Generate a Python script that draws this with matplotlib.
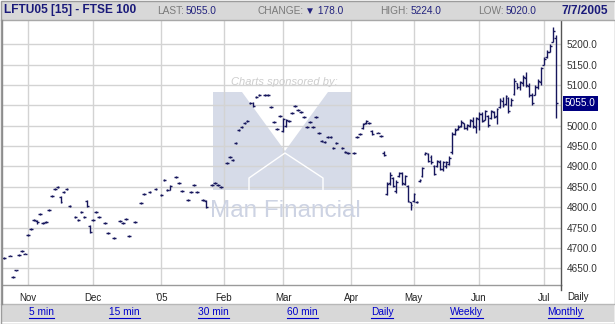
import matplotlib
matplotlib.use("Agg")
import matplotlib.pyplot as plt
from matplotlib.patches import Rectangle, Polygon
from matplotlib import font_manager
import matplotlib.transforms as mtrans
import pandas as pd

# ---------------- data (weekday offsets from 2004-11-01) ----------------
day_offsets = [-8, -6, -5, -4, -3, -2, -1, 0, 1, 2, 3, 4, 5, 6, 7, 8, 9, 10, 11, 12, 13, 14,
               16, 17, 18, 19, 20, 21, 22, 23, 24, 26, 27, 29, 31, 32, 33, 34, 36, 38, 39, 41,
               43, 45, 46, 47, 48, 50, 51, 52, 54, 55, 56, 57, 59, 60, 62, 63, 64, 65, 67, 68,
               69, 70, 71, 72, 73, 74, 75, 76, 77, 78, 80, 81, 82, 83, 84, 85, 86, 87, 88, 89,
               90, 91, 92, 93, 94, 95, 96, 97, 98, 99, 100, 101, 102, 103, 104, 106, 107, 108,
               110, 111, 112, 113, 114, 115, 116, 118, 119, 120, 121, 122, 123, 124, 125, 126,
               127, 128, 129, 130, 131, 132, 133, 134, 135, 136, 137, 138, 139, 140, 141, 142,
               143, 144, 145, 146, 147, 148, 149, 150, 151, 152, 153, 154, 155, 156, 157, 158,
               159, 160, 161, 162, 163, 164, 165, 166, 167, 168, 169, 170, 171, 172, 173, 174,
               175, 176, 177, 178]
opens = [4676, 4681, 4628, 4645, 4683, 4693, 4686, 4732, 4747, 4769, 4766, 4783, 4761, 4764,
         4793, 4828, 4845, 4850, 4826, 4838, 4845, 4803, 4776, 4769, 4788, 4776, 4815, 4754,
         4769, 4788, 4776, 4761, 4737, 4725, 4766, 4761, 4771, 4729, 4764, 4810, 4832, 4838,
         4845, 4830, 4867, 4842, 4843, 4874, 4860, 4840, 4818, 4838, 4855, 4838, 4818, 4816,
         4855, 4860, 4855, 4850, 4908, 4923, 4916, 4958, 4990, 4997, 5007, 5012, 5056, 5057,
         5070, 5076, 5076, 5076, 5046, 5009, 4992, 5024, 4988, 5000, 5012, 5031, 5048, 5039,
         5034, 5021, 4997, 5009, 4997, 5021, 4982, 4963, 4960, 4972, 4972, 4945, 4958, 4945,
         4935, 4933, 4933, 4972, 4980, 4994, 5006, 5007, 4988, 4983, 4975, 4934, 4832, 4860,
         4872, 4840, 4876, 4884, 4858, 4852, 4812, 4815, 4813, 4865, 4876, 4930, 4931, 4924,
         4901, 4900, 4912, 4893, 4900, 4906, 4935, 4980, 4992, 5000, 5006, 4994, 5000, 5012,
         4998, 5016, 5028, 5015, 5024, 5020, 5034, 5024, 5045, 5062, 5054, 5068, 5050, 5078,
         5105, 5094, 5106, 5118, 5098, 5076, 5075, 5095, 5108, 5150, 5168, 5182, 5205, 5215]
highs = [4678, 4683, 4630, 4647, 4685, 4695, 4688, 4734, 4749, 4771, 4769, 4785, 4763, 4766,
         4795, 4830, 4847, 4852, 4828, 4840, 4847, 4805, 4778, 4771, 4790, 4778, 4818, 4756,
         4771, 4790, 4778, 4763, 4739, 4727, 4768, 4763, 4773, 4731, 4766, 4812, 4834, 4840,
         4847, 4832, 4869, 4844, 4855, 4876, 4862, 4842, 4820, 4840, 4857, 4840, 4820, 4818,
         4857, 4862, 4857, 4852, 4910, 4925, 4918, 4960, 4992, 4999, 5009, 5014, 5058, 5059,
         5072, 5078, 5078, 5078, 5048, 5011, 4994, 5026, 5019, 5017, 5014, 5033, 5050, 5041,
         5036, 5023, 4999, 5011, 4999, 5023, 4984, 4965, 4962, 4974, 4974, 4947, 4960, 4947,
         4937, 4935, 4935, 4974, 4982, 5007, 5014, 5009, 4990, 4985, 4977, 4937, 4862, 4886,
         4874, 4867, 4886, 4886, 4879, 4855, 4813, 4835, 4815, 4869, 4898, 4935, 4933, 4928,
         4903, 4916, 4916, 4913, 4913, 4925, 4985, 4994, 5002, 5014, 5007, 5004, 5017, 5022,
         5021, 5034, 5034, 5039, 5026, 5039, 5036, 5043, 5068, 5070, 5076, 5070, 5068, 5117,
         5105, 5110, 5125, 5132, 5105, 5080, 5100, 5115, 5145, 5170, 5185, 5200, 5242, 5224]
lows = [4674, 4679, 4626, 4643, 4681, 4691, 4684, 4730, 4745, 4767, 4760, 4781, 4759, 4762,
        4791, 4826, 4843, 4848, 4810, 4836, 4843, 4801, 4774, 4767, 4786, 4774, 4800, 4737,
        4767, 4786, 4774, 4759, 4735, 4723, 4764, 4759, 4769, 4727, 4762, 4808, 4830, 4836,
        4843, 4828, 4865, 4840, 4842, 4872, 4858, 4838, 4816, 4836, 4853, 4836, 4816, 4798,
        4853, 4858, 4853, 4848, 4906, 4921, 4914, 4956, 4988, 4995, 5005, 5010, 5054, 5046,
        5068, 5074, 5074, 5074, 5044, 5007, 4990, 5022, 4985, 4997, 5010, 5029, 5046, 5037,
        5032, 5019, 4995, 5007, 4995, 5019, 4980, 4961, 4958, 4970, 4970, 4943, 4956, 4943,
        4933, 4931, 4931, 4970, 4978, 4992, 5004, 5005, 4978, 4981, 4973, 4925, 4830, 4855,
        4850, 4835, 4874, 4855, 4855, 4813, 4793, 4813, 4811, 4863, 4874, 4928, 4911, 4906,
        4879, 4899, 4891, 4889, 4896, 4904, 4930, 4977, 4990, 4997, 4992, 4990, 4997, 4995,
        4982, 4990, 5009, 5014, 4997, 5017, 5019, 5004, 5043, 5046, 5051, 5031, 5048, 5075,
        5090, 5088, 5098, 5095, 5070, 5051, 5075, 5090, 5100, 5150, 5166, 5180, 5205, 5020]
closes = [4676, 4681, 4628, 4645, 4683, 4693, 4686, 4732, 4747, 4769, 4763, 4783, 4761, 4764,
          4793, 4828, 4845, 4850, 4812, 4838, 4845, 4803, 4776, 4769, 4788, 4776, 4802, 4740,
          4769, 4788, 4776, 4761, 4737, 4725, 4766, 4761, 4771, 4729, 4764, 4810, 4832, 4838,
          4845, 4830, 4867, 4842, 4853, 4874, 4860, 4840, 4818, 4838, 4855, 4838, 4818, 4800,
          4855, 4860, 4855, 4850, 4908, 4923, 4916, 4958, 4990, 4997, 5007, 5012, 5056, 5048,
          5070, 5076, 5076, 5076, 5046, 5009, 4992, 5024, 5016, 5015, 5012, 5031, 5048, 5039,
          5034, 5021, 4997, 5009, 4997, 5021, 4982, 4963, 4960, 4972, 4972, 4945, 4958, 4945,
          4935, 4933, 4933, 4972, 4980, 5005, 5012, 5007, 4980, 4983, 4975, 4927, 4858, 4880,
          4852, 4862, 4884, 4860, 4876, 4816, 4805, 4832, 4813, 4867, 4896, 4932, 4914, 4910,
          4882, 4914, 4895, 4910, 4911, 4922, 4980, 4990, 4998, 5010, 4995, 5002, 5015, 5000,
          5018, 5030, 5012, 5036, 5002, 5036, 5022, 5040, 5064, 5050, 5072, 5036, 5064, 5110,
          5095, 5108, 5120, 5100, 5075, 5055, 5096, 5110, 5142, 5165, 5182, 5196, 5233, 5055]

month_labels = ["Nov", "Dec", "'05", "Feb", "Mar", "Apr", "May", "Jun", "Jul"]
y_ticks = [4650, 4700, 4750, 4800, 4850, 4900, 4950, 5000, 5050, 5100, 5150, 5200]
last_price = 5055.0
header_title = "LFTU05 [15] - FTSE 100"
header_fields = [("LAST:", "5055.0"), ("CHANGE:", "\u25BC 178.0"), ("HIGH:", "5224.0"), ("LOW:", "5020.0")]
header_date = "7/7/2005"
links = ["5 min", "15 min", "30 min", "60 min", "Daily", "Weekly", "Monthly"]

# month tick positions: first weekday of each month (weekday index from 2004-11-01)
wd = pd.bdate_range("2004-11-01", "2005-07-07")
first_idx = []
seen = set()
for i, d in enumerate(wd):
    key = (d.year, d.month)
    if key not in seen:
        seen.add(key)
        first_idx.append(i)

# ---------------- fonts ----------------
def pick(fams):
    for f in fams:
        try:
            font_manager.findfont(font_manager.FontProperties(family=f), fallback_to_default=False)
            return f
        except Exception:
            continue
    return "DejaVu Sans"

SANS = pick(["Liberation Sans", "Arial", "DejaVu Sans"])
NARROW = pick(["Liberation Sans Narrow", "Liberation Sans"])
narrow_ok = NARROW == "Liberation Sans Narrow"

W, H = 615, 324
fig = plt.figure(figsize=(W / 100, H / 100), dpi=100)
fig.patch.set_facecolor("white")

# overlay in pixel coordinates (y down)
ov = fig.add_axes([0, 0, 1, 1], zorder=5)
ov.set_xlim(0, W)
ov.set_ylim(H, 0)
ov.axis("off")
ov.patch.set_alpha(0)

PL, PR, PT, PB = 3, 561, 21, 285
ax = fig.add_axes([PL / W, 1 - PB / H, (PR - PL) / W, (PB - PT) / H], zorder=2)
ax.set_facecolor("white")

# watermark (behind data)
wm_col = "#D6DBE8"
m_poly = [(213, 92), (242, 92), (285, 151), (328, 92), (351, 92), (351, 190), (213, 190)]
ax.add_patch(Polygon(m_poly, closed=True, facecolor=wm_col, edgecolor="none",
                     transform=ov.transData, zorder=0.5))
ax.plot([249, 249, 285, 323, 323], [190, 178, 153, 178, 190], color="white", lw=1.0,
        transform=ov.transData, zorder=0.6)
ax.text(284, 82, "Charts sponsored by:", transform=ov.transData, ha="center", va="center",
        fontsize=8, style="italic", color="#CDCDCD", family=SANS, zorder=0.6)
ax.text(285, 211, "Man Financial", transform=ov.transData, ha="center", va="center",
        fontsize=21 if narrow_ok else 17.5, color="#CDD3E3", family=NARROW, zorder=0.6)

# OHLC bars
bar_col = "#16165C"
tw = 0.62
ax.vlines(day_offsets, lows, highs, color=bar_col, lw=1.0, zorder=3)
ax.hlines(opens, [d - tw for d in day_offsets], day_offsets, color=bar_col, lw=1.0, zorder=3)
ax.hlines(closes, day_offsets, [d + tw for d in day_offsets], color=bar_col, lw=1.0, zorder=3)

ax.set_xlim((PL - 28) / 2.966, (PR - 28) / 2.966)
ax.set_ylim(4609.0, 5257.2)

ax.set_xticks(first_idx)
ax.set_xticklabels(month_labels)
ax.set_yticks(y_ticks)
ax.set_yticklabels(["" if v == 5050 else f"{v:.1f}" for v in y_ticks])
ax.yaxis.tick_right()
ax.tick_params(axis="y", length=0, pad=4, labelsize=7.2, labelcolor="#333333")
ax.tick_params(axis="x", length=0, pad=6, labelsize=7, labelcolor="#222222")
for lab in ax.get_xticklabels() + ax.get_yticklabels():
    lab.set_family(SANS)
ax.grid(True, color="#D3D3D3", lw=1.0, zorder=0)
ax.set_axisbelow(True)
for s in ["top", "left"]:
    ax.spines[s].set_visible(False)
ax.spines["right"].set_color("#555555")
ax.spines["bottom"].set_color("#9A9A9A")
ax.spines["right"].set_linewidth(1.0)
ax.spines["bottom"].set_linewidth(1.0)

# last-price box
bt = mtrans.blended_transform_factory(ax.transAxes, ax.transData)
ax.text(1.0 + 4 / (PR - PL), last_price, f"{last_price:.1f}", transform=bt, ha="left", va="center",
        fontsize=7.2, color="white", family=SANS, zorder=6, clip_on=False,
        bbox=dict(facecolor="#000080", edgecolor="none", boxstyle="square,pad=0.25"))

# header band
ov.add_patch(Rectangle((1, 1), W - 2, 19, facecolor="#D8D8D8", edgecolor="none", zorder=1))
ov.plot([1, W - 1], [20, 20], color="#A8A8A8", lw=1.0, zorder=2)
ov.text(4, 10.5, header_title, ha="left", va="center", fontsize=10.3 if narrow_ok else 8.6,
        weight="bold", color="#1A1A7A", family=NARROW, zorder=3)
field_x = [157, 257, 380, 478]
navy = "#23237E"
fig.canvas.draw()
rend = fig.canvas.get_renderer()
inv = ov.transData.inverted()
for (lab, val), fx in zip(header_fields, field_x):
    t = ov.text(fx, 11, lab, ha="left", va="center", fontsize=7.3, color="#7A7A7A", family=SANS, zorder=3)
    bb = t.get_window_extent(renderer=rend)
    x_end = inv.transform((bb.x1, bb.y0))[0]
    ov.text(x_end + 2, 11, val, ha="left", va="center", fontsize=7.3, color=navy,
            family=[SANS, "DejaVu Sans"], zorder=3)
ov.text(608, 10.5, header_date, ha="right", va="center", fontsize=8.6, weight="bold",
        color="#1A1A7A", family=SANS, zorder=3)

# "Daily" label beside month labels
ov.text(578, 297, "Daily", ha="center", va="center", fontsize=7, color="#222222", family=SANS, zorder=3)
ov.plot([PR, PR], [PB, 290], color="#555555", lw=1.0, zorder=3)

# footer band with links
ov.add_patch(Rectangle((1, 304), W - 2, 18, facecolor="#D8D8D8", edgecolor="none", zorder=1))
ov.plot([1, W - 1], [304, 304], color="#B8B8B8", lw=1.0, zorder=2)
link_x = [41.5, 124.5, 213.5, 302.5, 382, 466.5, 565.5]
fig.canvas.draw()
for lab, lx in zip(links, link_x):
    t = ov.text(lx, 312, lab, ha="center", va="center", fontsize=7.3, color="#0000CC", family=SANS, zorder=3)
    bb = t.get_window_extent(renderer=rend)
    (x0, _), (x1, _) = inv.transform((bb.x0, bb.y0)), inv.transform((bb.x1, bb.y0))
    ov.plot([x0, x1], [317.5, 317.5], color="#0000CC", lw=0.8, zorder=3)

# outer frame
ov.add_patch(Rectangle((0.5, 0.5), W - 1, H - 1, facecolor="none", edgecolor="#9C9C9C", lw=1.0, zorder=4))
ov.plot([2, 2], [20, 304], color="#8C8C8C", lw=1.0, zorder=4)

fig.savefig("out.png", dpi=100, facecolor="white")
